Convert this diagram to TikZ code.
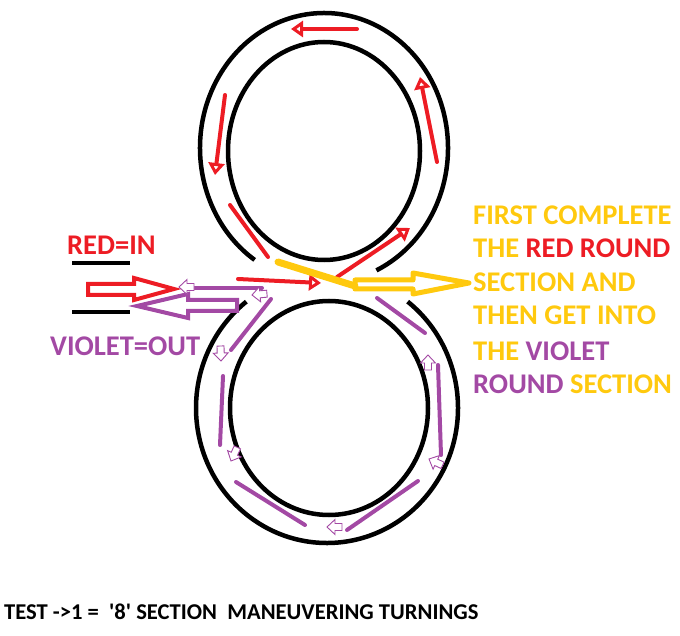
\documentclass[tikz,border=0pt]{standalone}
\usepackage{fontspec}
\setmainfont{Carlito}
\usetikzlibrary{arrows.meta}
\definecolor{pred}{HTML}{ED1C24}
\definecolor{pviolet}{HTML}{A349A4}
\definecolor{pgold}{HTML}{FFC90E}
\tikzset{
  ring/.style={draw=black,line width=4.5pt},
  redln/.style={draw=pred,line width=4pt,line cap=round},
  redtip/.style={redln,-{Triangle[open,length=12pt,width=16pt,line width=3.5pt]}},
  vioLn/.style={draw=pviolet,line width=4pt,line cap=round},
  bigred/.style={draw=pred,line width=4pt,line join=miter},
  bigvio/.style={draw=pviolet,line width=4pt,line join=miter},
  goldln/.style={draw=pgold,line width=7pt,line cap=round},
  goldarrow/.style={draw=pgold,line width=5pt,line join=round},
  lbl/.style={anchor=base west,inner sep=0pt,font=\fontsize{28.5}{28.5}\selectfont\bfseries},
  varrow/.pic={\draw[pviolet,line width=0.9pt,fill=white]
     (0,0) -- (-8,-7.5) -- (-8,-3.5) -- (-15,-3.5) -- (-15,3.5) -- (-8,3.5) -- (-8,7.5) -- cycle;}
}
\begin{document}
\begin{tikzpicture}[x=1pt,y=-1pt]
\useasboundingbox (0,0) rectangle (680,636);
% rings
\draw[ring] (324,151) ellipse [x radius=96,y radius=109];
\draw[ring] (329,408) ellipse [x radius=99,y radius=107];
\draw[ring] (324,148) ++(124:124 and 135) arc [start angle=124,end angle=425,x radius=124,y radius=135];
\draw[ring] (327,408) ++(-52:131 and 135) arc [start angle=-52,end angle=232,x radius=131,y radius=135];
% entrance lines
\coordinate (e1a) at (72,263); \coordinate (e1b) at (130,263);
\coordinate (e2a) at (72,312); \coordinate (e2b) at (130,312);
\draw[black,line width=4pt] (e1a) -- (e1b);
\draw[black,line width=4pt] (e2a) -- (e2b);
% red arrows around top ring
\coordinate (r1a) at (357,29); \coordinate (r1b) at (291,29);
\draw[redtip] (r1a) -- (r1b);
\coordinate (r2a) at (437,162); \coordinate (r2b) at (420,77);
\draw[redtip] (r2a) -- (r2b);
\coordinate (r3a) at (225,95); \coordinate (r3b) at (215,175);
\draw[redtip] (r3a) -- (r3b);
\coordinate (r4a) at (230,205); \coordinate (r4b) at (268,257);
\draw[redln] (r4a) -- (r4b);
\coordinate (r5a) at (337,277); \coordinate (r5b) at (410,228);
\draw[redtip] (r5a) -- (r5b);
\coordinate (r6a) at (238,279); \coordinate (r6b) at (321,283);
\draw[redtip] (r6a) -- (r6b);
% big red entrance arrow
\draw[bigred] (88,284) -- (134,284) -- (134,278) -- (174,289) -- (134,300) -- (134,295) -- (88,295) -- cycle;
% big violet exit arrow
\draw[bigvio] (137,306) -- (188,294) -- (188,300) -- (237,300) -- (237,311) -- (188,311) -- (188,318) -- cycle;
% violet arrows around bottom ring
\coordinate (v1a) at (262,288); \coordinate (v1b) at (194,288);
\draw[vioLn] (v1a) -- (v1b);
\pic at (179,287) [rotate=180] {varrow};
\coordinate (v2a) at (231,350); \coordinate (v2b) at (271,299);
\draw[vioLn] (v2a) -- (v2b);
\pic at (252,295) [rotate=185] {varrow};
\coordinate (v3a) at (220,445); \coordinate (v3b) at (223,376);
\draw[vioLn] (v3a) -- (v3b);
\pic at (221,361) [rotate=-88] {varrow};
\coordinate (v4a) at (305,525); \coordinate (v4b) at (236,482);
\draw[vioLn] (v4a) -- (v4b);
\pic at (231,461) [rotate=-115] {varrow};
\coordinate (v5a) at (418,481); \coordinate (v5b) at (347,530);
\draw[vioLn] (v5a) -- (v5b);
\pic at (327,527) [rotate=180] {varrow};
\coordinate (v6a) at (438,365); \coordinate (v6b) at (441,455);
\draw[vioLn] (v6a) -- (v6b);
\pic at (429,459) [rotate=155] {varrow};
\coordinate (v7a) at (377,298); \coordinate (v7b) at (425,333);
\draw[vioLn] (v7a) -- (v7b);
\pic at (428,355) [rotate=90] {varrow};
% gold crossing
\coordinate (g1a) at (278,262); \coordinate (g1b) at (355,286);
\draw[goldln] (g1a) -- (g1b);
\draw[goldarrow] (355,280) -- (413,280) -- (413,273) -- (469,283) -- (413,294) -- (413,289) -- (355,289) -- cycle;
% texts
\node[lbl,text=pred] (tin) at (67,255) {RED=IN};
\node[lbl,text=pviolet] (tout) at (50,355) {VIOLET=OUT};
\node[lbl,text=pgold] (t1) at (473,225) {FIRST COMPLETE};
\node[lbl,text=pgold] (t2) at (473,258) {THE \textcolor{pred}{RED ROUND}};
\node[lbl,text=pgold] (t3) at (473,292) {SECTION AND};
\node[lbl,text=pgold] (t4) at (473,325) {THEN GET INTO};
\node[lbl,text=pgold] (t5) at (473,360) {THE \textcolor{pviolet}{VIOLET}};
\node[lbl,text=pgold] (t6) at (473,393) {\textcolor{pviolet}{ROUND} SECTION};
\node[anchor=base west,inner sep=0pt,font=\fontsize{22.6}{22.6}\selectfont\bfseries] (tb) at (4,619)
  {TEST ->1 =\ \ \textquotesingle8\textquotesingle\ SECTION\ \ MANEUVERING TURNINGS};
\end{tikzpicture}
\end{document}
